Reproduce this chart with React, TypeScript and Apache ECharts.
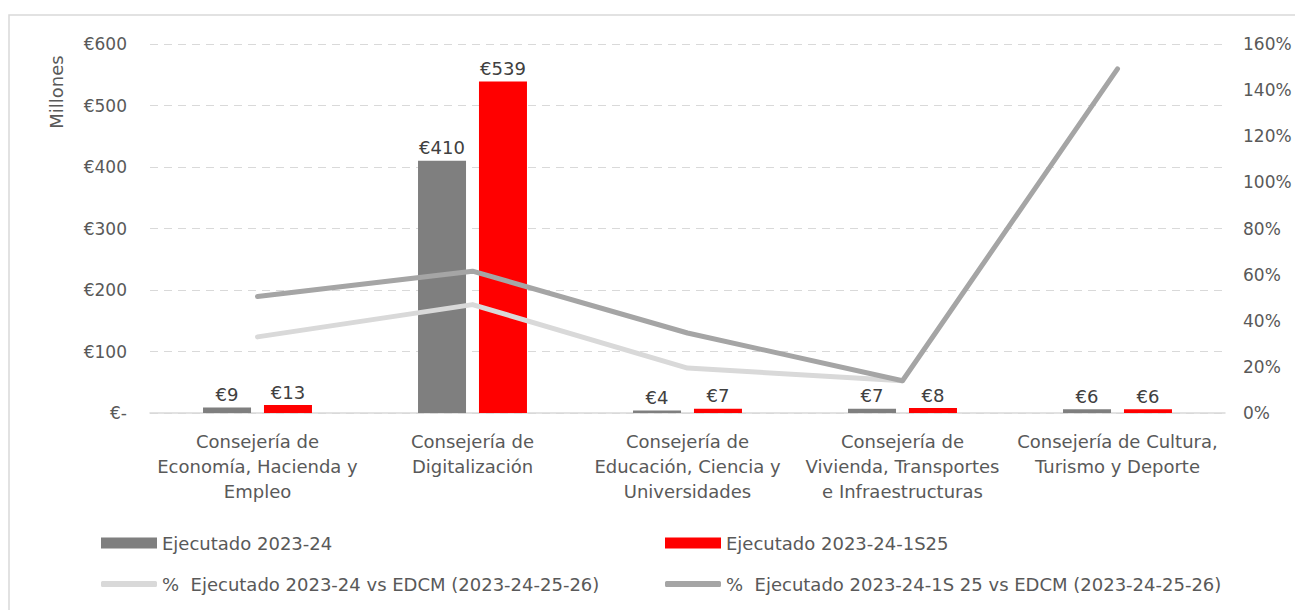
import React, { useEffect, useRef } from "react";
import * as echarts from "echarts";

const categories = [
  "Consejería de\nEconomía, Hacienda y\nEmpleo",
  "Consejería de\nDigitalización",
  "Consejería de\nEducación, Ciencia y\nUniversidades",
  "Consejería de\nVivienda, Transportes\ne Infraestructuras",
  "Consejería de Cultura,\nTurismo y Deporte",
];
const ejecutado2324 = [9, 410, 4, 7, 6];
const ejecutado1S25 = [13, 539, 7, 8, 6];
const pct2324 = [0.33, 0.47, 0.195, 0.14, null];
const pct1S25 = [0.505, 0.615, 0.347, 0.14, 1.492];

const leftTicks = { min: 0, max: 600, interval: 100 };
const rightTicks = { min: 0, max: 1.6, interval: 0.2 };

const FONT = "DejaVu Sans";
const FS = 17;
const FL = 18;
const TXT = "#595959";

export default function App() {
  const ref = useRef<HTMLDivElement>(null);
  useEffect(() => {
    if (!ref.current) return;
    const chart = echarts.init(ref.current, undefined, { renderer: "svg" });
    const legendText = { color: TXT, fontFamily: FONT, fontSize: FL };
    chart.setOption({
      animation: false,
      textStyle: { fontFamily: FONT },
      grid: { left: 142, right: 78, top: 36, bottom: 197, containLabel: false },
      graphic: [
        {
          type: "rect",
          shape: { x: 1, y: 7, width: 1320, height: 700 },
          style: { fill: "none", stroke: "#d9d9d9", lineWidth: 1.5 },
          silent: true,
          z: -10,
        },
        {
          type: "text",
          x: 48,
          y: 84,
          rotation: Math.PI / 2,
          style: {
            text: "Millones",
            fill: TXT,
            font: `${FL}px '${FONT}'`,
            align: "center",
            verticalAlign: "middle",
          },
        },
      ],
      legend: [
        {
          left: 88, top: 521, itemWidth: 56, itemHeight: 11, icon: "rect",
          textStyle: legendText,
          data: [{ name: "Ejecutado 2023-24", itemStyle: { color: "#7f7f7f" } }],
        },
        {
          left: 652, top: 521, itemWidth: 56, itemHeight: 11, icon: "rect",
          textStyle: legendText,
          data: [{ name: "Ejecutado 2023-24-1S25", itemStyle: { color: "#ff0000" } }],
        },
        {
          left: 88, top: 562, itemWidth: 56, itemHeight: 6, icon: "roundRect",
          textStyle: legendText,
          data: [{ name: "%  Ejecutado 2023-24 vs EDCM (2023-24-25-26)", itemStyle: { color: "#d9d9d9" } }],
        },
        {
          left: 652, top: 562, itemWidth: 56, itemHeight: 6, icon: "roundRect",
          textStyle: legendText,
          data: [{ name: "%  Ejecutado 2023-24-1S 25 vs EDCM (2023-24-25-26)", itemStyle: { color: "#a5a5a5" } }],
        },
      ],
      xAxis: {
        type: "category",
        data: categories,
        axisLine: { lineStyle: { color: "#d9d9d9", width: 1.5 } },
        axisTick: { show: false },
        axisLabel: {
          color: TXT, fontFamily: FONT, fontSize: FL, lineHeight: 25, margin: 16,
          interval: 0,
        },
      },
      yAxis: [
        {
          type: "value",
          ...leftTicks,
          axisLine: { show: false },
          axisTick: { show: false },
          splitLine: { lineStyle: { color: "#d9d9d9", type: [8, 6], width: 1.2 } },
          axisLabel: {
            color: TXT, fontFamily: FONT, fontSize: FS, margin: 23,
            formatter: (v: number) => (v === 0 ? "€-" : "€" + v),
          },
        },
        {
          type: "value",
          ...rightTicks,
          axisLine: { show: false },
          axisTick: { show: false },
          splitLine: { show: false },
          axisLabel: {
            color: TXT, fontFamily: FONT, fontSize: FS, margin: 18,
            formatter: (v: number) => Math.round(v * 100) + "%",
          },
        },
      ],
      series: [
        {
          name: "Ejecutado 2023-24",
          type: "bar",
          data: ejecutado2324,
          barWidth: 48,
          barGap: "27%",
          itemStyle: { color: "#7f7f7f" },
          label: {
            show: true, position: "top", distance: 4, color: "#404040",
            fontFamily: FONT, fontSize: FL, formatter: (p: any) => "€" + p.value,
          },
        },
        {
          name: "Ejecutado 2023-24-1S25",
          type: "bar",
          data: ejecutado1S25,
          barWidth: 48,
          barGap: "27%",
          itemStyle: { color: "#ff0000" },
          label: {
            show: true, position: "top", distance: 4, color: "#404040",
            fontFamily: FONT, fontSize: FL, formatter: (p: any) => "€" + p.value,
          },
        },
        {
          name: "%  Ejecutado 2023-24 vs EDCM (2023-24-25-26)",
          type: "line",
          yAxisIndex: 1,
          data: pct2324,
          showSymbol: false,
          symbol: "none",
          lineStyle: { color: "#d9d9d9", width: 5, cap: "round", join: "round" },
          itemStyle: { color: "#d9d9d9" },
          z: 3,
        },
        {
          name: "%  Ejecutado 2023-24-1S 25 vs EDCM (2023-24-25-26)",
          type: "line",
          yAxisIndex: 1,
          data: pct1S25,
          showSymbol: false,
          symbol: "none",
          lineStyle: { color: "#a5a5a5", width: 5, cap: "round", join: "round" },
          itemStyle: { color: "#a5a5a5" },
          z: 4,
        },
      ],
    });
    return () => chart.dispose();
  }, []);
  return <div ref={ref} style={{ width: 1295, height: 602 }} />;
}
